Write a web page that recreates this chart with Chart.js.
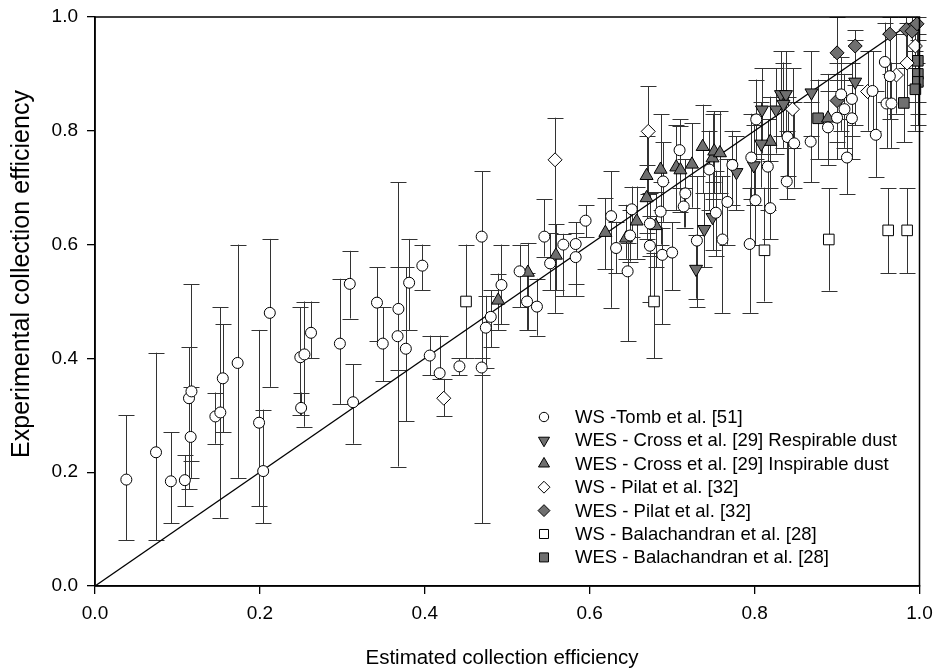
<!DOCTYPE html>
<html>
<head>
<meta charset="utf-8">
<script src="https://cdn.jsdelivr.net/npm/chart.js@4.4.1/dist/chart.umd.min.js"></script>
<style>
  html, body { margin: 0; padding: 0; background: #fff; }
  #wrap { width: 934px; height: 669px; position: relative; }
</style>
</head>
<body>
<div id="wrap"><canvas id="chart"></canvas></div>
<script>
// Each point: [estimated, experimental, lower bar, upper bar]
const tombWS = [
  [0.038, 0.187, 0.08, 0.30], [0.074, 0.235, 0.08, 0.41], [0.092, 0.184, 0.11, 0.27],
  [0.109, 0.186, 0.14, 0.23], [0.114, 0.330, 0.17, 0.42], [0.117, 0.342, 0.19, 0.53],
  [0.116, 0.262, 0.22, 0.35], [0.146, 0.298, 0.25, 0.34], [0.152, 0.305, 0.12, 0.49],
  [0.155, 0.365, 0.27, 0.46], [0.173, 0.392, 0.19, 0.60], [0.199, 0.287, 0.14, 0.45],
  [0.204, 0.202, 0.11, 0.31], [0.212, 0.480, 0.35, 0.61], [0.249, 0.402, 0.30, 0.49],
  [0.254, 0.407, 0.28, 0.50], [0.250, 0.313, 0.30, 0.34], [0.262, 0.445, 0.40, 0.50],
  [0.297, 0.426, 0.32, 0.54], [0.309, 0.531, 0.47, 0.589], [0.313, 0.323, 0.25, 0.39],
  [0.342, 0.498, 0.43, 0.56], [0.349, 0.426, 0.36, 0.49], [0.368, 0.487, 0.21, 0.71],
  [0.367, 0.439, 0.38, 0.56], [0.377, 0.417, 0.29, 0.56], [0.381, 0.533, 0.45, 0.61],
  [0.397, 0.563, 0.52, 0.60], [0.406, 0.405, 0.37, 0.44], [0.418, 0.374, 0.364, 0.44],
  [0.442, 0.386, 0.37, 0.40], [0.469, 0.614, 0.11, 0.729], [0.469, 0.384, 0.37, 0.40],
  [0.474, 0.454, 0.384, 0.51], [0.480, 0.473, 0.42, 0.52], [0.493, 0.529, 0.46, 0.60],
  [0.515, 0.553, 0.49, 0.60], [0.524, 0.500, 0.45, 0.55], [0.536, 0.491, 0.44, 0.54],
  [0.545, 0.614, 0.579, 0.68], [0.552, 0.567, 0.52, 0.62], [0.568, 0.600, 0.51, 0.619],
  [0.583, 0.601, 0.51, 0.639], [0.583, 0.578, 0.53, 0.62], [0.595, 0.642, 0.613, 0.669],
  [0.626, 0.650, 0.489, 0.729], [0.632, 0.594, 0.55, 0.64], [0.646, 0.553, 0.43, 0.603],
  [0.651, 0.662, 0.613, 0.702], [0.649, 0.616, 0.57, 0.66], [0.673, 0.637, 0.58, 0.69],
  [0.673, 0.598, 0.50, 0.65], [0.688, 0.582, 0.46, 0.63], [0.689, 0.711, 0.64, 0.78],
  [0.686, 0.658, 0.60, 0.71], [0.700, 0.586, 0.52, 0.639], [0.709, 0.766, 0.70, 0.82],
  [0.716, 0.690, 0.63, 0.75], [0.714, 0.667, 0.63, 0.70], [0.730, 0.607, 0.49, 0.72],
  [0.745, 0.732, 0.66, 0.80], [0.753, 0.656, 0.58, 0.73], [0.761, 0.609, 0.48, 0.72],
  [0.767, 0.675, 0.60, 0.75], [0.773, 0.740, 0.67, 0.80], [0.794, 0.601, 0.48, 0.70],
  [0.819, 0.664, 0.609, 0.747], [0.801, 0.678, 0.60, 0.76], [0.816, 0.737, 0.66, 0.82],
  [0.796, 0.753, 0.68, 0.83], [0.802, 0.820, 0.75, 0.89], [0.840, 0.789, 0.72, 0.86],
  [0.848, 0.778, 0.70, 0.85], [0.839, 0.711, 0.68, 0.80], [0.868, 0.781, 0.71, 0.85],
  [0.889, 0.806, 0.74, 0.87], [0.905, 0.864, 0.80, 0.93], [0.918, 0.856, 0.79, 0.92],
  [0.909, 0.838, 0.77, 0.90], [0.900, 0.823, 0.75, 0.89], [0.918, 0.822, 0.75, 0.89],
  [0.912, 0.753, 0.689, 0.82], [0.943, 0.870, 0.80, 0.94], [0.947, 0.793, 0.719, 0.87],
  [0.958, 0.921, 0.85, 0.99], [0.960, 0.848, 0.77, 0.92], [0.966, 0.848, 0.77, 0.92],
  [0.964, 0.896, 0.82, 0.97]
];

const crossRespirable = [
  [0.729, 0.557, 0.505, 0.616], [0.739, 0.627, 0.56, 0.69], [0.749, 0.648, 0.59, 0.71],
  [0.778, 0.727, 0.66, 0.79], [0.799, 0.739, 0.67, 0.81], [0.808, 0.777, 0.70, 0.85],
  [0.809, 0.837, 0.76, 0.91], [0.826, 0.837, 0.76, 0.91], [0.832, 0.864, 0.79, 0.94],
  [0.838, 0.864, 0.79, 0.94], [0.835, 0.847, 0.77, 0.92], [0.869, 0.867, 0.79, 0.94],
  [0.922, 0.886, 0.81, 0.96]
];

const crossInspirable = [
  [0.489, 0.502, 0.45, 0.549], [0.525, 0.551, 0.45, 0.603], [0.559, 0.581, 0.52, 0.636],
  [0.619, 0.621, 0.557, 0.682], [0.644, 0.611, 0.575, 0.67], [0.657, 0.641, 0.575, 0.702],
  [0.669, 0.721, 0.61, 0.791], [0.669, 0.682, 0.62, 0.74], [0.680, 0.633, 0.56, 0.692],
  [0.686, 0.732, 0.66, 0.829], [0.705, 0.736, 0.66, 0.81], [0.710, 0.731, 0.658, 0.808],
  [0.724, 0.741, 0.665, 0.813], [0.737, 0.772, 0.69, 0.846], [0.749, 0.752, 0.68, 0.83],
  [0.751, 0.764, 0.69, 0.834], [0.758, 0.761, 0.69, 0.834], [0.819, 0.781, 0.70, 0.86],
  [0.889, 0.822, 0.75, 0.90]
];

const pilatWS = [
  [0.423, 0.330, 0.298, 0.364], [0.558, 0.749, 0.48, 0.823], [0.671, 0.799, 0.689, 0.878],
  [0.846, 0.838, 0.77, 0.91], [0.937, 0.869, 0.80, 0.94], [0.972, 0.898, 0.83, 0.97],
  [0.985, 0.919, 0.85, 0.99], [0.995, 0.949, 0.88, 1.0]
];

const pilatWES = [
  [0.900, 0.937, 0.87, 1.0], [0.922, 0.949, 0.88, 0.977], [0.964, 0.970, 0.90, 1.0],
  [0.984, 0.978, 0.91, 1.0], [0.991, 0.975, 0.91, 1.0], [0.997, 0.988, 0.92, 1.0],
  [0.900, 0.853, 0.78, 0.92]
];

const balaWS = [
  [0.450, 0.500, 0.40, 0.60], [0.678, 0.500, 0.40, 0.586], [0.812, 0.590, 0.50, 0.70],
  [0.890, 0.609, 0.519, 0.699], [0.962, 0.625, 0.55, 0.699], [0.985, 0.625, 0.55, 0.699]
];

const balaWES = [
  [0.877, 0.822, 0.75, 0.89], [0.981, 0.849, 0.78, 0.92], [0.998, 0.923, 0.85, 1.0],
  [0.998, 0.900, 0.83, 0.97], [0.998, 0.886, 0.81, 0.96], [0.995, 0.873, 0.80, 0.94]
];

const seriesLabels = [
  'WS -Tomb et al. [51]',
  'WES - Cross et al. [29] Respirable dust',
  'WES - Cross et al. [29] Inspirable dust',
  'WS - Pilat et al. [32]',
  'WES - Pilat et al. [32]',
  'WS - Balachandran et al. [28]',
  'WES - Balachandran et al. [28]'
];
const axisTicks = [0, 0.2, 0.4, 0.6, 0.8, 1.0];
const xTitle = 'Estimated collection efficiency';
const yTitle = 'Experimental collection efficiency';

const GRAY = '#6f6f6f';
const markerStyles = [
  { pointStyle: 'circle', radius: 5.5, fill: '#fff', rotation: 0 },
  { pointStyle: 'triangle', radius: 7.5, fill: GRAY, rotation: 180 },
  { pointStyle: 'triangle', radius: 7.5, fill: GRAY, rotation: 0 },
  { pointStyle: 'rectRot', radius: 7, fill: '#fff', rotation: 0 },
  { pointStyle: 'rectRot', radius: 7, fill: GRAY, rotation: 0 },
  { pointStyle: 'rect', radius: 7.5, fill: '#fff', rotation: 0 },
  { pointStyle: 'rect', radius: 7.5, fill: GRAY, rotation: 0 }
];
const allSeries = [tombWS, crossRespirable, crossInspirable, pilatWS, pilatWES, balaWS, balaWES];

const FONT = "'Liberation Sans', Arial, sans-serif";
Chart.defaults.font.family = FONT;
Chart.defaults.font.size = 19;
Chart.defaults.color = '#000';

const datasets = allSeries.map((pts, i) => ({
  label: seriesLabels[i],
  data: pts.map(p => ({ x: p[0], y: p[1], lo: p[2], hi: p[3] })),
  pointStyle: markerStyles[i].pointStyle,
  pointRotation: markerStyles[i].rotation,
  pointRadius: markerStyles[i].radius,
  pointBackgroundColor: markerStyles[i].fill,
  pointBorderColor: '#000',
  pointBorderWidth: 1,
  showLine: false,
  clip: false
}));

// y = x reference line
datasets.push({
  type: 'line',
  label: 'parity',
  data: [{ x: 0, y: 0 }, { x: 1, y: 1 }],
  borderColor: '#000',
  borderWidth: 1.3,
  pointRadius: 0,
  order: 10
});

const errorBars = {
  id: 'errorBars',
  beforeDatasetsDraw(chart) {
    const { ctx, scales: { x, y } } = chart;
    ctx.save();
    ctx.strokeStyle = '#333';
    ctx.lineWidth = 1;
    chart.data.datasets.forEach(ds => {
      if (ds.type === 'line') return;
      ds.data.forEach(p => {
        const px = Math.round(x.getPixelForValue(p.x)) + 0.5;
        const yl = y.getPixelForValue(p.lo);
        const yh = y.getPixelForValue(p.hi);
        ctx.beginPath();
        ctx.moveTo(px, yl); ctx.lineTo(px, yh);
        ctx.moveTo(px - 8, Math.round(yl) + 0.5); ctx.lineTo(px + 8, Math.round(yl) + 0.5);
        ctx.moveTo(px - 8, Math.round(yh) + 0.5); ctx.lineTo(px + 8, Math.round(yh) + 0.5);
        ctx.stroke();
      });
    });
    ctx.restore();
  }
};

const frameAndLegend = {
  id: 'frameAndLegend',
  afterDraw(chart) {
    const { ctx, chartArea: a } = chart;
    ctx.save();
    ctx.strokeStyle = '#000';
    ctx.lineWidth = 1.5;
    ctx.strokeRect(a.left, a.top, a.right - a.left, a.bottom - a.top);

    // axis titles
    ctx.fillStyle = '#000';
    ctx.textAlign = 'center';
    ctx.textBaseline = 'alphabetic';
    ctx.font = '20.5px ' + FONT;
    ctx.fillText(xTitle, 502, 664);
    ctx.save();
    ctx.translate(29, 274);
    ctx.rotate(-Math.PI / 2);
    ctx.font = '25px ' + FONT;
    ctx.fillText(yTitle, 0, 0);
    ctx.restore();

    // legend block inside the plot, lower right
    const mx = 544, tx = 575, y0 = 417, step = 23.4;
    ctx.font = '18.5px ' + FONT;
    ctx.textAlign = 'left';
    ctx.textBaseline = 'middle';
    seriesLabels.forEach((label, i) => {
      const yy = y0 + i * step;
      const m = markerStyles[i];
      ctx.fillStyle = m.fill;
      ctx.strokeStyle = '#000';
      ctx.lineWidth = 1;
      Chart.helpers.drawPoint(ctx, {
        pointStyle: m.pointStyle,
        radius: m.radius * 0.85,
        rotation: m.rotation,
        borderWidth: 1
      }, mx, yy);
      ctx.fillStyle = '#000';
      ctx.fillText(label, tx, yy + 1);
    });
    ctx.restore();
  }
};

new Chart(document.getElementById('chart'), {
  type: 'scatter',
  data: { datasets },
  options: {
    responsive: true,
    maintainAspectRatio: false,
    animation: false,
    layout: { padding: { top: 17, right: 14.5, left: 0, bottom: 0 } },
    plugins: {
      legend: { display: false },
      tooltip: { enabled: false }
    },
    scales: {
      x: {
        type: 'linear',
        min: 0,
        max: 1,
        afterBuildTicks: s => { s.ticks = axisTicks.map(v => ({ value: v })); },
        afterFit: s => { s.height = 83; s.paddingLeft = 0; s.paddingRight = 0; },
        ticks: { padding: 8, callback: v => v.toFixed(1) },
        grid: { drawOnChartArea: false, tickLength: 8, color: '#000', lineWidth: 1.3 },
        border: { color: '#000', width: 1.5 }
      },
      y: {
        type: 'linear',
        min: 0,
        max: 1,
        afterBuildTicks: s => { s.ticks = axisTicks.map(v => ({ value: v })); },
        afterFit: s => { s.width = 95; s.paddingTop = 0; s.paddingBottom = 0; },
        ticks: { padding: 9, callback: v => v.toFixed(1) },
        grid: { drawOnChartArea: false, tickLength: 8, color: '#000', lineWidth: 1.3 },
        border: { color: '#000', width: 1.5 }
      }
    }
  },
  plugins: [errorBars, frameAndLegend]
});
</script>
</body>
</html>
